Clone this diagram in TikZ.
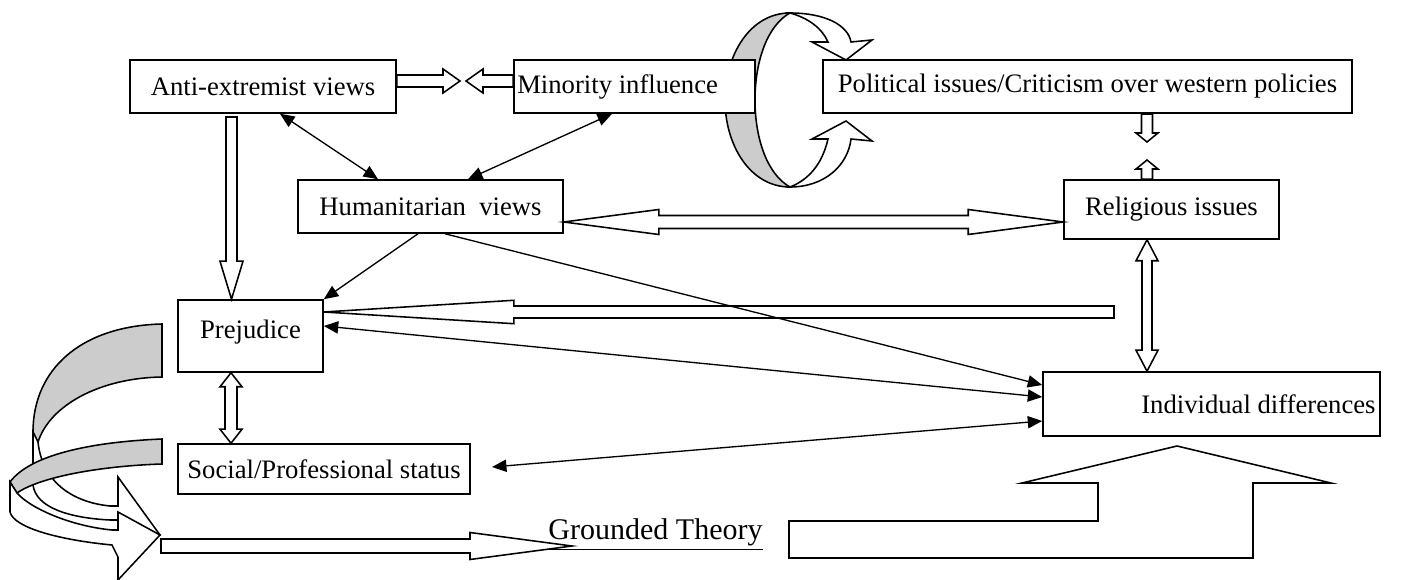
\documentclass[tikz,border=0pt]{standalone}
\usepackage{fontspec}
\setmainfont{Liberation Serif}
\usetikzlibrary{arrows.meta,calc}

\newcommand{\pxu}{0.45pt}
% hollow block arrow: tail, tip, half shaft, half head, head length
\newcommand{\blockarrow}[5]{%
  \coordinate (bt) at (#1);
  \coordinate (bh) at (#2);
  \coordinate (bb) at ($(bh)!#5*\pxu!(bt)$);
  \draw[hollow] ($(bt)!#3*\pxu!90:(bh)$) -- ($(bb)!#3*\pxu!-90:(bt)$) -- ($(bb)!#4*\pxu!-90:(bt)$) -- (bh)
    -- ($(bb)!#4*\pxu!90:(bt)$) -- ($(bb)!#3*\pxu!90:(bt)$) -- ($(bt)!#3*\pxu!-90:(bh)$) -- cycle;}
% same with a head at both ends
\newcommand{\dblockarrow}[5]{%
  \coordinate (ba) at (#1);
  \coordinate (bz) at (#2);
  \coordinate (b1) at ($(ba)!#5*\pxu!(bz)$);
  \coordinate (b2) at ($(bz)!#5*\pxu!(ba)$);
  \draw[hollow] (ba) -- ($(b1)!#4*\pxu!90:(bz)$) -- ($(b1)!#3*\pxu!90:(bz)$) -- ($(b2)!#3*\pxu!-90:(ba)$)
    -- ($(b2)!#4*\pxu!-90:(ba)$) -- (bz) -- ($(b2)!#4*\pxu!90:(ba)$) -- ($(b2)!#3*\pxu!90:(ba)$)
    -- ($(b1)!#3*\pxu!-90:(bz)$) -- ($(b1)!#4*\pxu!-90:(bz)$) -- cycle;}

\begin{document}
\begin{tikzpicture}[
        x=0.45pt, y=-0.45pt,
        >={Triangle[length=6.5pt,width=5.5pt]},
        font=\fontsize{12}{14}\selectfont,
        box/.style={draw, line width=0.7pt, fill=white, inner sep=2pt},
        link/.style={line width=0.6pt},
        hollow/.style={draw, line width=0.7pt, fill=white},
        ribbon/.style={draw, line width=0.7pt, fill=white},
        back/.style={ribbon, fill=black!20},
        ]
        \useasboundingbox (0,0) rectangle (1408,580);

        % Circular arrow behind the minority box
        \draw[back] (790,13) .. controls (750,13) and (725,55) .. (725,100) .. controls (725,145) and (750,187) .. (790,187)
            .. controls (768,175) and (755,140) .. (755,100) .. controls (755,60) and (768,25) .. (790,13) -- cycle;
        \draw[ribbon] (790,13) .. controls (825,13) and (848,25) .. (851,42) -- (872,40) -- (846,60) -- (812,42) -- (828,42)
            .. controls (822,28) and (808,18) .. (790,13) -- cycle;
        \draw[ribbon] (790,187) .. controls (825,187) and (848,165) .. (851,139) -- (872,141) -- (846,121) -- (812,139) -- (828,139)
            .. controls (822,165) and (808,180) .. (790,187) -- cycle;

        % Curved arrows on the left
        \draw[back] (162,324) .. controls (80,326) and (33,370) .. (33,432) -- (38,442)
            .. controls (50,405) and (100,378) .. (162,377) -- cycle;
        \draw[ribbon] (33,432) -- (33,485) .. controls (36,508) and (70,518) .. (110,520) -- (118,520) -- (118,552) -- (160,535)
            -- (118,477) -- (118,506) -- (110,506) .. controls (70,502) and (42,480) .. (38,442) -- cycle;
        \draw[back] (162,439) .. controls (90,442) and (30,455) .. (10,482) -- (17,493)
            .. controls (40,477) and (100,466) .. (162,464) -- cycle;
        \draw[ribbon] (10,482) -- (10,512) .. controls (14,528) and (60,540) .. (112,545) -- (118,557) -- (118,580) -- (160,535)
            -- (118,512) -- (118,530) -- (112,530) .. controls (70,526) and (30,508) .. (17,493) -- cycle;

        % Boxes
        \node[box, minimum width=119.7pt, minimum height=23.85pt] (anti) at (263,86.5) {Anti-extremist views};
        \node[box, text width=105.5pt, inner xsep=1.5pt, minimum height=23.85pt, align=flush left] (minor) at (634.5,86.5) {Minority influence};
        \node[box, minimum width=238pt, minimum height=23.85pt] (polit) at (1087.5,86.5) {Political issues/Criticism over western policies};
        \node[box, minimum width=119.25pt, minimum height=23.85pt] (human) at (430.5,206.5) {Humanitarian~ views};
        \node[box, minimum width=96.75pt, minimum height=26.55pt] (relig) at (1171.5,209.5) {Religious issues};
        \node[box, minimum width=65.25pt, minimum height=32.4pt] (prej) at (250.5,336) {\raisebox{6pt}{Prejudice}};
        \node[box, minimum width=131.4pt, minimum height=22.5pt] (social) at (324,469) {Social/Professional status};
        \node[box, text width=147.65pt, inner xsep=2pt, minimum height=28.8pt, align=flush right] (indiv) at (1211.5,404) {Individual differences};
        \node[anchor=base west, inner sep=0pt, font=\fontsize{13.5}{16}\selectfont] (ground) at (548,540) {\underline{Grounded Theory}};

        % Block arrows
        \blockarrow{anti.east |- 0,81}{460,81}{6}{12}{17}
        \blockarrow{minor.west |- 0,81}{466,81}{6}{12}{17}
        \blockarrow{231.5,117}{231.5,0 |- prej.north}{5.5}{11.5}{38}
        \blockarrow{1114,312}{prej.east |- 0,312}{6}{11.7}{190}
        \dblockarrow{human.east |- 0,222}{relig.west |- 0,222}{6.5}{12.5}{95}
        \dblockarrow{231,0 |- prej.south}{231,0 |- social.north}{6}{11}{14}
        \dblockarrow{1147,0 |- relig.south}{1147,0 |- indiv.north}{5}{11}{21}
        \blockarrow{1147,114}{1147,142}{5.5}{11}{9}
        \blockarrow{1147,0 |- relig.north}{1147,160}{5.5}{11}{9}
        \blockarrow{161,546}{572,546}{7}{13.5}{102}
        \draw[hollow] (789,521) -- (1098,521) -- (1098,483) -- (1022,483) -- (1177,446) -- (1331,483)
            -- (1253,483) -- (1253,558) -- (789,558) -- cycle;

        % Links
        \coordinate (socend) at (492,467);
        \draw[link, <->] (280,0 |- anti.south) -- (378,0 |- human.north);
        \draw[link, <->] (612,0 |- minor.south) -- (468,0 |- human.north);
        \draw[link, ->] (418,0 |- human.south) -- (prej.north east);
        \draw[link, ->] (445,0 |- human.south) -- (indiv.west |- 0,385);
        \draw[link, <->] (prej.east |- 0,326) -- (indiv.west |- 0,397);
        \draw[link, <->] (indiv.west |- 0,421) -- (socend);

    \end{tikzpicture}
\end{document}
